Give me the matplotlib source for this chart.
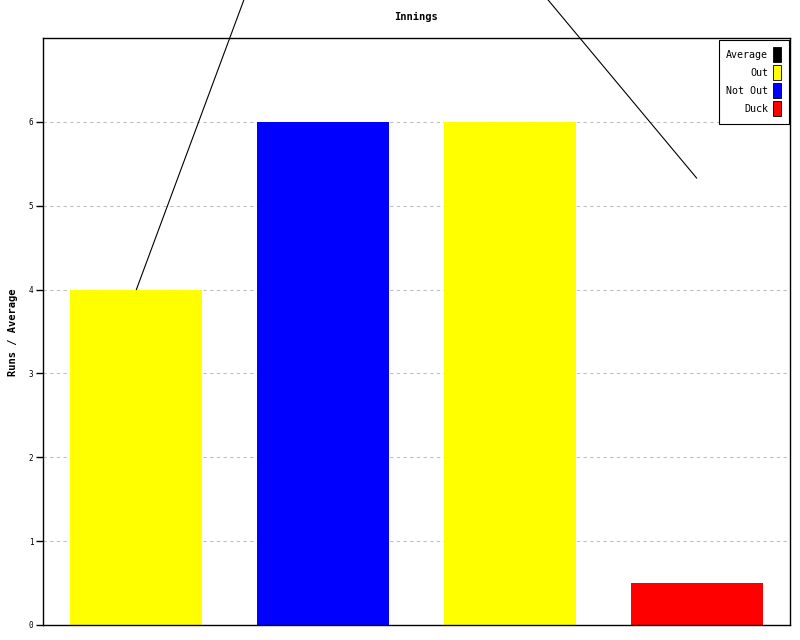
import matplotlib
matplotlib.use('Agg')
import matplotlib.pyplot as plt
from matplotlib.patches import Patch

# innings: runs per innings, how it ended, running average
innings = ['1', '2', '3', '4']
runs = [4, 6, 6, 0.5]          # duck drawn as a half-height stub
status = ['Out', 'Not Out', 'Out', 'Duck']
average = [4, 10, 8, 5.33]

colours = {'Average': 'black', 'Out': '#ffff00', 'Not Out': '#0000ff', 'Duck': '#ff0000'}

plt.rcParams['font.family'] = ['DejaVu Sans Mono']

fig = plt.figure(figsize=(8, 6.4), dpi=100)
ax = fig.add_axes([43/800, 15/640, 747/800, 587/640])

x = range(len(runs))
ax.bar(x, runs, width=0.706, color=[colours[s] for s in status], zorder=2)
ax.plot(x, average, color='black', lw=0.8, clip_on=False, zorder=3)

ax.set_xlim(-0.5, len(runs) - 0.5)
ax.set_ylim(0, 7)
ax.set_yticks(range(7))
ax.set_xticks([])
ax.tick_params(axis='y', labelsize=5.5, length=5, width=1, direction='out', pad=2)
ax.yaxis.grid(True, color='#c0c0c0', ls=(0, (3, 3)), lw=0.8, zorder=1)
for s in ax.spines.values():
    s.set_linewidth(1)

fig.text(416/800, 1 - 17/640, 'Innings', fontsize=7.5, fontweight='bold',
         ha='center', va='center')
fig.text(13/800, 1 - 332/640, 'Runs / Average', fontsize=7.5, fontweight='bold',
         rotation=90, ha='center', va='center')

handles = [Patch(facecolor=colours[k], edgecolor='black', lw=0.6, label=k) for k in colours]
leg = ax.legend(handles=handles, loc='upper right', markerfirst=False, fontsize=7.2,
                handlelength=0.8, handleheight=2.0, handletextpad=0.5, labelspacing=0.25,
                borderpad=0.75, fancybox=False, edgecolor='black', framealpha=1,
                borderaxespad=0.15)
leg.get_frame().set_linewidth(0.8)
for t in leg.get_texts():
    t.set_ha('right')

plt.savefig('out.png', dpi=100)
